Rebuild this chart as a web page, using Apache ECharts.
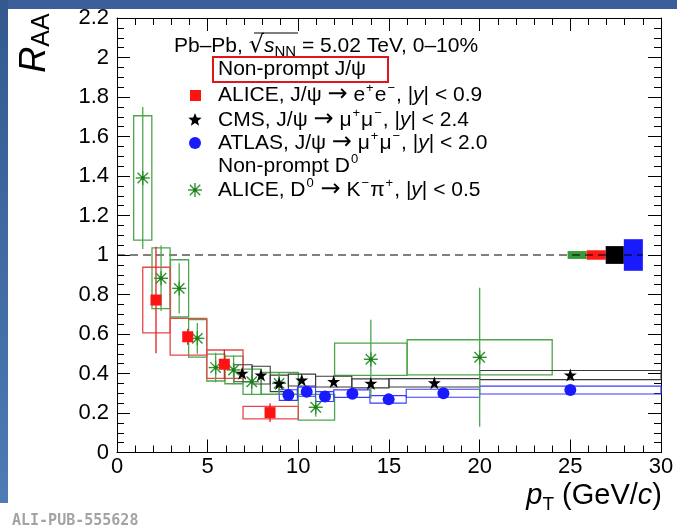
<!DOCTYPE html>
<html><head><meta charset="utf-8">
<script src="https://cdn.jsdelivr.net/npm/echarts@6/dist/echarts.min.js"></script>
<style>html,body{margin:0;padding:0;background:#fff}#c{width:677px;height:529px}</style>
</head><body><div id="c"></div>
<script>
// ---- ALICE non-prompt D0 (green asterisks)
const d0X    = [1.42, 2.43, 3.43, 4.43, 5.44, 6.43, 7.43, 8.94, 10.96, 14.0, 20.0];
const d0Y    = [1.39, 0.882, 0.831, 0.578, 0.43, 0.418, 0.358, 0.35, 0.229, 0.472, 0.482];
const d0BinLo = [0.92, 1.93, 2.95, 3.95, 4.95, 5.95, 6.95, 7.95, 10, 12, 16];
const d0BinHi = [1.92, 2.93, 3.95, 4.95, 5.95, 6.95, 7.95, 10, 12, 16, 24];
const d0Sys  = [0.315, 0.154, 0.145, 0.095, 0.068, 0.07, 0.064, 0.055, 0.065, 0.082, 0.089];
const d0Stat = [0.36, 0.166, 0.127, 0.078, 0.075, 0.073, 0.067, 0.055, 0.048, 0.2, 0.352];
// ---- ALICE non-prompt J/psi (red squares)
const aliX    = [2.15, 3.90, 5.92, 8.44];
const aliY    = [0.772, 0.586, 0.447, 0.202];
const aliBinLo = [1.42, 2.93, 4.95, 6.95];
const aliBinHi = [2.93, 4.95, 6.95, 10];
const aliSys  = [0.166, 0.093, 0.072, 0.032];
const aliStat = [0.27, 0.04, 0.075, 0.047];
// ---- CMS non-prompt J/psi (black stars)
const cmsX    = [6.9, 7.94, 8.94, 10.19, 11.95, 14.0, 17.5, 25.0];
const cmsY    = [0.401, 0.392, 0.35, 0.367, 0.359, 0.35, 0.353, 0.392];
const cmsBinLo = [6.45, 7.45, 8.45, 9.45, 10.95, 12.95, 15, 20];
const cmsBinHi = [7.45, 8.45, 9.45, 10.95, 12.95, 15, 20, 30];
const cmsSys  = [0.043, 0.045, 0.042, 0.03, 0.027, 0.023, 0.021, 0.023];
// ---- ATLAS non-prompt J/psi (blue circles)
const atlX    = [9.45, 10.46, 11.47, 12.98, 14.98, 18.0, 25.0];
const atlY    = [0.291, 0.308, 0.283, 0.298, 0.269, 0.30, 0.316];
const atlBinLo = [8.95, 9.95, 10.95, 11.95, 13.95, 15.95, 20];
const atlBinHi = [9.95, 10.95, 11.95, 13.95, 15.95, 20, 30];
const atlSys  = [0.027, 0.023, 0.025, 0.019, 0.019, 0.02, 0.02];
// ---- global normalisation uncertainties at R_AA = 1
const globLo   = [24.85, 25.9, 26.95, 27.95];
const globHi   = [25.9, 26.95, 27.95, 29.0];
const globHalf = [0.02, 0.024, 0.045, 0.08];
const globColor = ['#3a9a3a', '#ff1a1a', '#000000', '#1a1aff'];
// ---- reference line
const refX = [0, 29];
const refY = [1, 1];
// ---- axes
const xTicks = [0, 5, 10, 15, 20, 25, 30];
const yTicks = [0, 0.2, 0.4, 0.6, 0.8, 1, 1.2, 1.4, 1.6, 1.8, 2, 2.2];

const F = "'Liberation Sans', Arial, Helvetica, sans-serif";
const GREEN_BOX = '#4da64d', GREEN_MK = '#2f942f';
const RED_BOX = '#e8474c', RED_MK = '#ff1212';
const CMS_BOX = '#3a3a3a', ATL_BOX = '#3b3bff', ATL_MK = '#1a1aff';

function boxData(lo, hi, y, s) { return lo.map((l, i) => [l, hi[i], y[i] - s[i], y[i] + s[i]]); }
function barData(x, y, s) { return x.map((v, i) => [v, y[i] - s[i], y[i] + s[i]]); }
function boxSeries(data, stroke, lw, z) {
  return {
    type: 'custom', data, z, silent: true, encode: { x: [0, 1], y: [2, 3] },
    renderItem: (p, api) => {
      const a = api.coord([api.value(0), api.value(3)]);
      const b = api.coord([api.value(1), api.value(2)]);
      return { type: 'rect', shape: { x: a[0], y: a[1], width: b[0] - a[0], height: b[1] - a[1] },
        style: { fill: 'none', stroke, lineWidth: lw } };
    }
  };
}
function barSeries(data, stroke, lw, z) {
  return {
    type: 'custom', data, z, silent: true, encode: { x: 0, y: [1, 2] },
    renderItem: (p, api) => {
      const a = api.coord([api.value(0), api.value(1)]);
      const b = api.coord([api.value(0), api.value(2)]);
      return { type: 'line', shape: { x1: a[0], y1: a[1], x2: b[0], y2: b[1] }, style: { stroke, lineWidth: lw } };
    }
  };
}
function asteriskShape(cx, cy, col) {
  const r = 7, d = 5.2;
  return { type: 'group', children: [
    { type: 'line', shape: { x1: cx - r, y1: cy, x2: cx + r, y2: cy }, style: { stroke: col, lineWidth: 1.4 } },
    { type: 'line', shape: { x1: cx, y1: cy - r, x2: cx, y2: cy + r }, style: { stroke: col, lineWidth: 1.4 } },
    { type: 'line', shape: { x1: cx - d, y1: cy - d, x2: cx + d, y2: cy + d }, style: { stroke: col, lineWidth: 1.4 } },
    { type: 'line', shape: { x1: cx - d, y1: cy + d, x2: cx + d, y2: cy - d }, style: { stroke: col, lineWidth: 1.4 } },
    { type: 'circle', shape: { cx, cy, r: 2 }, style: { fill: '#1f7a1f' } }
  ] };
}
function starPoints(cx, cy, R, r) {
  const pts = [];
  for (let k = 0; k < 10; k++) {
    const ang = -Math.PI / 2 + k * Math.PI / 5;
    const rr = k % 2 ? r : R;
    pts.push([cx + rr * Math.cos(ang), cy + rr * Math.sin(ang)]);
  }
  return pts;
}
const STAR = 'path://M50,0 L62,36 L100,36 L69,58 L81,95 L50,72 L19,95 L31,58 L0,36 L38,36 Z';

const axisCommon = {
  type: 'value', axisLine: { show: true, onZero: false, lineStyle: { color: '#000', width: 1 } },
  splitLine: { show: false },
  axisTick: { show: true, inside: true, length: 13, lineStyle: { color: '#000', width: 1 } },
};

const rt = {
  t: { fontSize: 21, fontFamily: F, color: '#000', lineHeight: 26 },
  i: { fontSize: 21, fontFamily: F, color: '#000', fontStyle: 'italic', lineHeight: 26 },
  ar: { fontSize: 24, fontFamily: "'DejaVu Sans', sans-serif", color: '#000', lineHeight: 26 },
  rt: { fontSize: 24, fontFamily: "'DejaVu Sans', sans-serif", color: '#000', lineHeight: 26 },
  sp: { fontSize: 13, fontFamily: F, color: '#000', verticalAlign: 'top', lineHeight: 16, padding: [0, 1, 0, 1] },
  sb: { fontSize: 15, fontFamily: F, color: '#000', verticalAlign: 'bottom', lineHeight: 12 }
};
function legText(x, y, txt) {
  return { type: 'text', x, y, style: { text: txt, rich: rt, align: 'left', verticalAlign: 'middle' }, z: 50 };
}

const chart = echarts.init(document.getElementById('c'), null, { renderer: 'canvas' });
chart.setOption({
  animation: false,
  backgroundColor: '#ffffff',
  grid: { left: 117, right: 16, top: 18, bottom: 76.5, containLabel: false, outerBoundsMode: 'none' },
  xAxis: [
    Object.assign({}, axisCommon, { min: xTicks[0], max: xTicks[xTicks.length - 1], interval: 5, position: 'bottom',
      minorTick: { show: true, splitNumber: 5, length: 7, lineStyle: { color: '#000' } },
      axisLabel: { fontSize: 22, fontFamily: F, color: '#000', margin: 3 } }),
    Object.assign({}, axisCommon, { min: xTicks[0], max: xTicks[xTicks.length - 1], interval: 5, position: 'top',
      minorTick: { show: true, splitNumber: 5, length: 7, lineStyle: { color: '#000' } },
      axisLabel: { show: false } })
  ],
  yAxis: [
    Object.assign({}, axisCommon, { min: yTicks[0], max: yTicks[yTicks.length - 1], interval: 0.2, position: 'left',
      minorTick: { show: true, splitNumber: 4, length: 7, lineStyle: { color: '#000' } },
      axisLabel: { fontSize: 22, fontFamily: F, color: '#000', margin: 8 } }),
    Object.assign({}, axisCommon, { min: yTicks[0], max: yTicks[yTicks.length - 1], interval: 0.2, position: 'right',
      minorTick: { show: true, splitNumber: 4, length: 7, lineStyle: { color: '#000' } },
      axisLabel: { show: false } })
  ],
  series: [
    {
      type: 'custom', z: 2, silent: true, encode: { x: [0, 1], y: [2, 3] },
      data: globLo.map((l, i) => [l, globHi[i], 1 - globHalf[i], 1 + globHalf[i], i]),
      renderItem: (p, api) => {
        const a = api.coord([api.value(0), api.value(3)]);
        const b = api.coord([api.value(1), api.value(2)]);
        return { type: 'rect', shape: { x: a[0], y: a[1], width: b[0] - a[0], height: b[1] - a[1] },
          style: { fill: globColor[api.value(4)] } };
      }
    },
    { type: 'line', z: 3, silent: true, symbol: 'none', data: refX.map((v, i) => [v, refY[i]]),
      lineStyle: { color: '#000', width: 1, type: [8, 5] } },
    boxSeries(boxData(d0BinLo, d0BinHi, d0Y, d0Sys), GREEN_BOX, 1.3, 4),
    boxSeries(boxData(aliBinLo, aliBinHi, aliY, aliSys), RED_BOX, 1.3, 4),
    boxSeries(boxData(cmsBinLo, cmsBinHi, cmsY, cmsSys), CMS_BOX, 1.1, 4),
    boxSeries(boxData(atlBinLo, atlBinHi, atlY, atlSys), ATL_BOX, 1.1, 4),
    barSeries(barData(d0X, d0Y, d0Stat), GREEN_BOX, 1.3, 5),
    barSeries(barData(aliX, aliY, aliStat), '#e02020', 1.3, 5),
    {
      type: 'custom', z: 8, silent: true, encode: { x: 0, y: 1 },
      data: d0X.map((v, i) => [v, d0Y[i]]),
      renderItem: (p, api) => { const c = api.coord([api.value(0), api.value(1)]); return asteriskShape(c[0], c[1], GREEN_MK); }
    },
    { type: 'scatter', z: 8, silent: true, symbol: 'rect', symbolSize: 11, itemStyle: { color: RED_MK, opacity: 1 },
      data: aliX.map((v, i) => [v, aliY[i]]) },
    { type: 'scatter', z: 8, silent: true, symbol: STAR, symbolSize: 13, itemStyle: { color: '#000', opacity: 1 },
      data: cmsX.map((v, i) => [v, cmsY[i]]) },
    { type: 'scatter', z: 8, silent: true, symbol: 'circle', symbolSize: 12, itemStyle: { color: ATL_MK, opacity: 1 },
      data: atlX.map((v, i) => [v, atlY[i]]) }
  ],
  graphic: [
    { type: 'rect', shape: { x: 0, y: 0, width: 677, height: 9 }, style: { fill: '#3a5f9a' }, z: 100 },
    { type: 'rect', shape: { x: 0, y: 0, width: 8, height: 503 },
      style: { fill: new echarts.graphic.LinearGradient(0, 0, 0, 1, [{ offset: 0, color: '#33598f' }, { offset: 1, color: '#4c7bb6' }]) }, z: 100 },
    { type: 'text', x: 35, y: 43, rotation: Math.PI / 2, z: 50,
      style: { text: '{r|R}{s|AA}', align: 'center', verticalAlign: 'middle',
        rich: { r: { fontSize: 36, fontStyle: 'italic', fontFamily: F, color: '#000', lineHeight: 40 },
                s: { fontSize: 25, fontFamily: F, color: '#000', verticalAlign: 'bottom', lineHeight: 28 } } } },
    { type: 'text', x: 662, y: 496, z: 50,
      style: { text: '{p|p}{s|T}{n| (GeV/}{p|c}{n|)}', align: 'right', verticalAlign: 'middle',
        rich: { p: { fontSize: 29, fontStyle: 'italic', fontFamily: F, color: '#000', lineHeight: 36 },
                n: { fontSize: 29, fontFamily: F, color: '#000', lineHeight: 36 },
                s: { fontSize: 19, fontFamily: F, color: '#000', verticalAlign: 'bottom', lineHeight: 20 } } } },
    { type: 'text', x: 12, y: 521, z: 50,
      style: { text: 'ALI-PUB-555628', fontFamily: "'DejaVu Sans Mono', 'Liberation Mono', monospace", fontWeight: 'bold',
        fontSize: 15, fill: '#a3a3a3', align: 'left', verticalAlign: 'middle' } },
    legText(174, 46, '{t|Pb–Pb, }{rt|√}{i|s}{sb|NN}{t| = 5.02 TeV, 0–10%}'),
    { type: 'line', shape: { x1: 254, y1: 33, x2: 298, y2: 33 }, style: { stroke: '#000', lineWidth: 1.2 }, z: 50 },
    legText(218, 69, '{t|Non-prompt J/ψ}'),
    { type: 'rect', shape: { x: 213, y: 57, width: 175, height: 25 }, style: { fill: 'none', stroke: '#e0161b', lineWidth: 2 }, z: 50 },
    { type: 'rect', shape: { x: 190, y: 90, width: 11, height: 11 }, style: { fill: RED_MK }, z: 50 },
    legText(218, 95, '{t|ALICE, J/ψ }{ar|→}{t| e}{sp|+}{t|e}{sp|−}{t|, |}{i|y}{t|| < 0.9}'),
    { type: 'polygon', shape: { points: starPoints(195, 120, 7, 3) }, style: { fill: '#000' }, z: 50 },
    legText(218, 120, '{t|CMS, J/ψ }{ar|→}{t| μ}{sp|+}{t|μ}{sp|−}{t|, |}{i|y}{t|| < 2.4}'),
    { type: 'circle', shape: { cx: 195, cy: 143, r: 6 }, style: { fill: ATL_MK }, z: 50 },
    legText(218, 143, '{t|ATLAS, J/ψ }{ar|→}{t| μ}{sp|+}{t|μ}{sp|−}{t|, |}{i|y}{t|| < 2.0}'),
    legText(218, 166, '{t|Non-prompt D}{sp|0}'),
    Object.assign(asteriskShape(195, 190, GREEN_MK), { z: 50 }),
    legText(218, 190, '{t|ALICE, D}{sp|0}{t| }{ar|→}{t| K}{sp|−}{t|π}{sp|+}{t|, |}{i|y}{t|| < 0.5}')
  ]
});
</script></body></html>
